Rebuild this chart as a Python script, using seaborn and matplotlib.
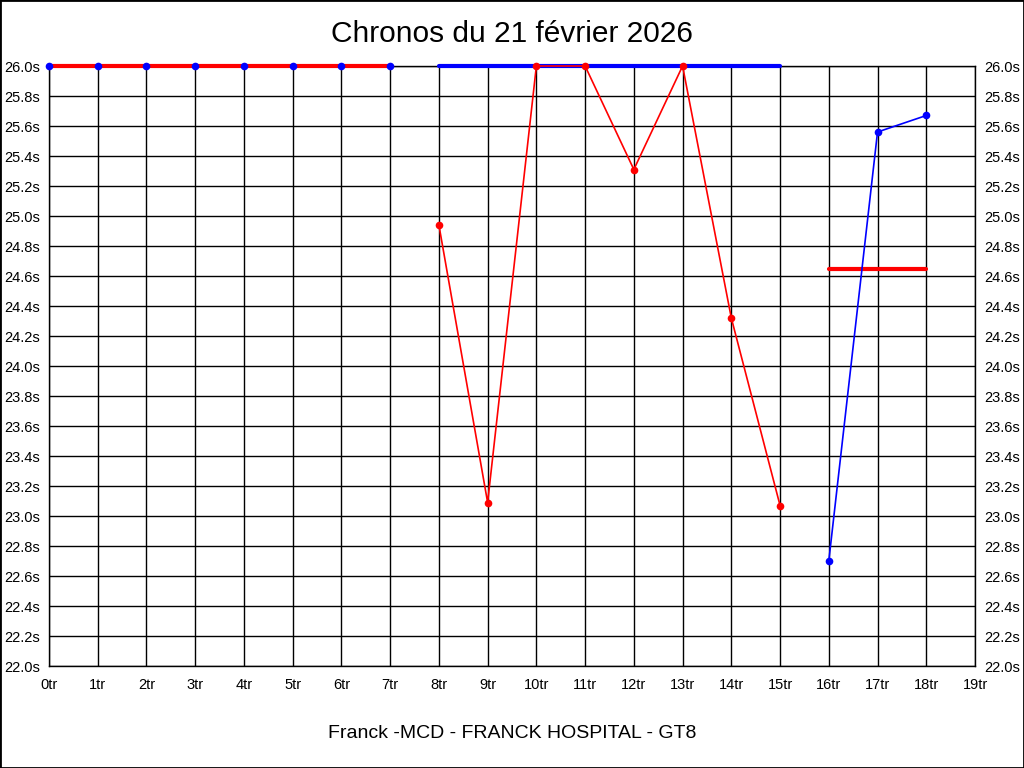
import numpy as np
import pandas as pd
import seaborn as sns
import matplotlib.pyplot as plt
from matplotlib.patches import Rectangle

# tours (x) and temps (s)
laps_a = [0, 1, 2, 3, 4, 5, 6, 7]
times_a = [26.0, 26.0, 26.0, 26.0, 26.0, 26.0, 26.0, 26.0]

laps_b = [8, 9, 10, 11, 12, 13, 14, 15]
times_b = [24.94, 23.09, 26.0, 26.0, 25.31, 26.0, 24.32, 23.07]

laps_c = [16, 17, 18]
times_c = [22.70, 25.56, 25.67]

# lignes de reference
ref_red_laps = [0, 7]
ref_red_times = [26.0, 26.0]
ref_blue_laps = [8, 15]
ref_blue_times = [26.0, 26.0]
ref_red2_laps = [16, 18]
ref_red2_times = [24.65, 24.65]

x_ticks = list(range(0, 20))
x_labels = [f"{i}tr" for i in x_ticks]
y_ticks = np.round(np.arange(22.0, 26.01, 0.2), 1)
y_labels = [f"{v:.1f}s" for v in y_ticks]

title = "Chronos du 21 février 2026"
xlabel = "Franck -MCD - FRANCK HOSPITAL - GT8"

sns.set_style("white")
plt.rcParams['font.family'] = ['Liberation Sans', 'DejaVu Sans']
plt.rcParams['text.color'] = 'black'
plt.rcParams['axes.labelcolor'] = 'black'

fig = plt.figure(figsize=(10.24, 7.68), dpi=100)
ax = fig.add_axes([49 / 1024, 102 / 768, 926 / 1024, 600 / 768])

RED = "#ff0000"
BLUE = "#0000ff"

# thick reference lines
sns.lineplot(x=ref_red_laps, y=ref_red_times, color=RED, linewidth=3, ax=ax)
sns.lineplot(x=ref_blue_laps, y=ref_blue_times, color=BLUE, linewidth=3, ax=ax)
sns.lineplot(x=ref_red2_laps, y=ref_red2_times, color=RED, linewidth=3, ax=ax)

# series
sns.lineplot(x=laps_a, y=times_a, color=BLUE, linewidth=0, marker="o",
             markersize=5.5, markeredgewidth=0, ax=ax)
sns.lineplot(x=laps_b, y=times_b, color=RED, linewidth=1.2, marker="o",
             markersize=5.5, markeredgewidth=0, ax=ax)
sns.lineplot(x=laps_c, y=times_c, color=BLUE, linewidth=1.2, marker="o",
             markersize=5.5, markeredgewidth=0, ax=ax)

for ln in ax.lines:
    ln.set_clip_on(False)
    ln.set_zorder(3)

ax.set_xlim(0, 19)
ax.set_ylim(22.0, 26.0)
ax.set_xticks(x_ticks)
ax.set_xticklabels(x_labels)
ax.set_yticks(y_ticks)
ax.set_yticklabels(y_labels)
ax.tick_params(axis="y", which="both", left=False, right=False,
               labelleft=True, labelright=True, labelsize=10.5, pad=3, colors="black")
ax.tick_params(axis="x", bottom=False, labelsize=10.5, pad=5, colors="black")
ax.grid(True, color="black", linewidth=1)
ax.set_axisbelow(True)
for sp in ax.spines.values():
    sp.set_color("black")
    sp.set_linewidth(1)

ax.set_xlabel(xlabel, fontsize=14, labelpad=24, color="black")
ax.set_ylabel("")
fig.text(0.5, 1 - 34 / 768, title, ha="center", va="center", fontsize=21.5, color="black")

fig.patches.append(Rectangle((0, 0), 1, 1, transform=fig.transFigure,
                             fill=False, edgecolor="black", linewidth=2))

fig.savefig("out.png", dpi=100)
